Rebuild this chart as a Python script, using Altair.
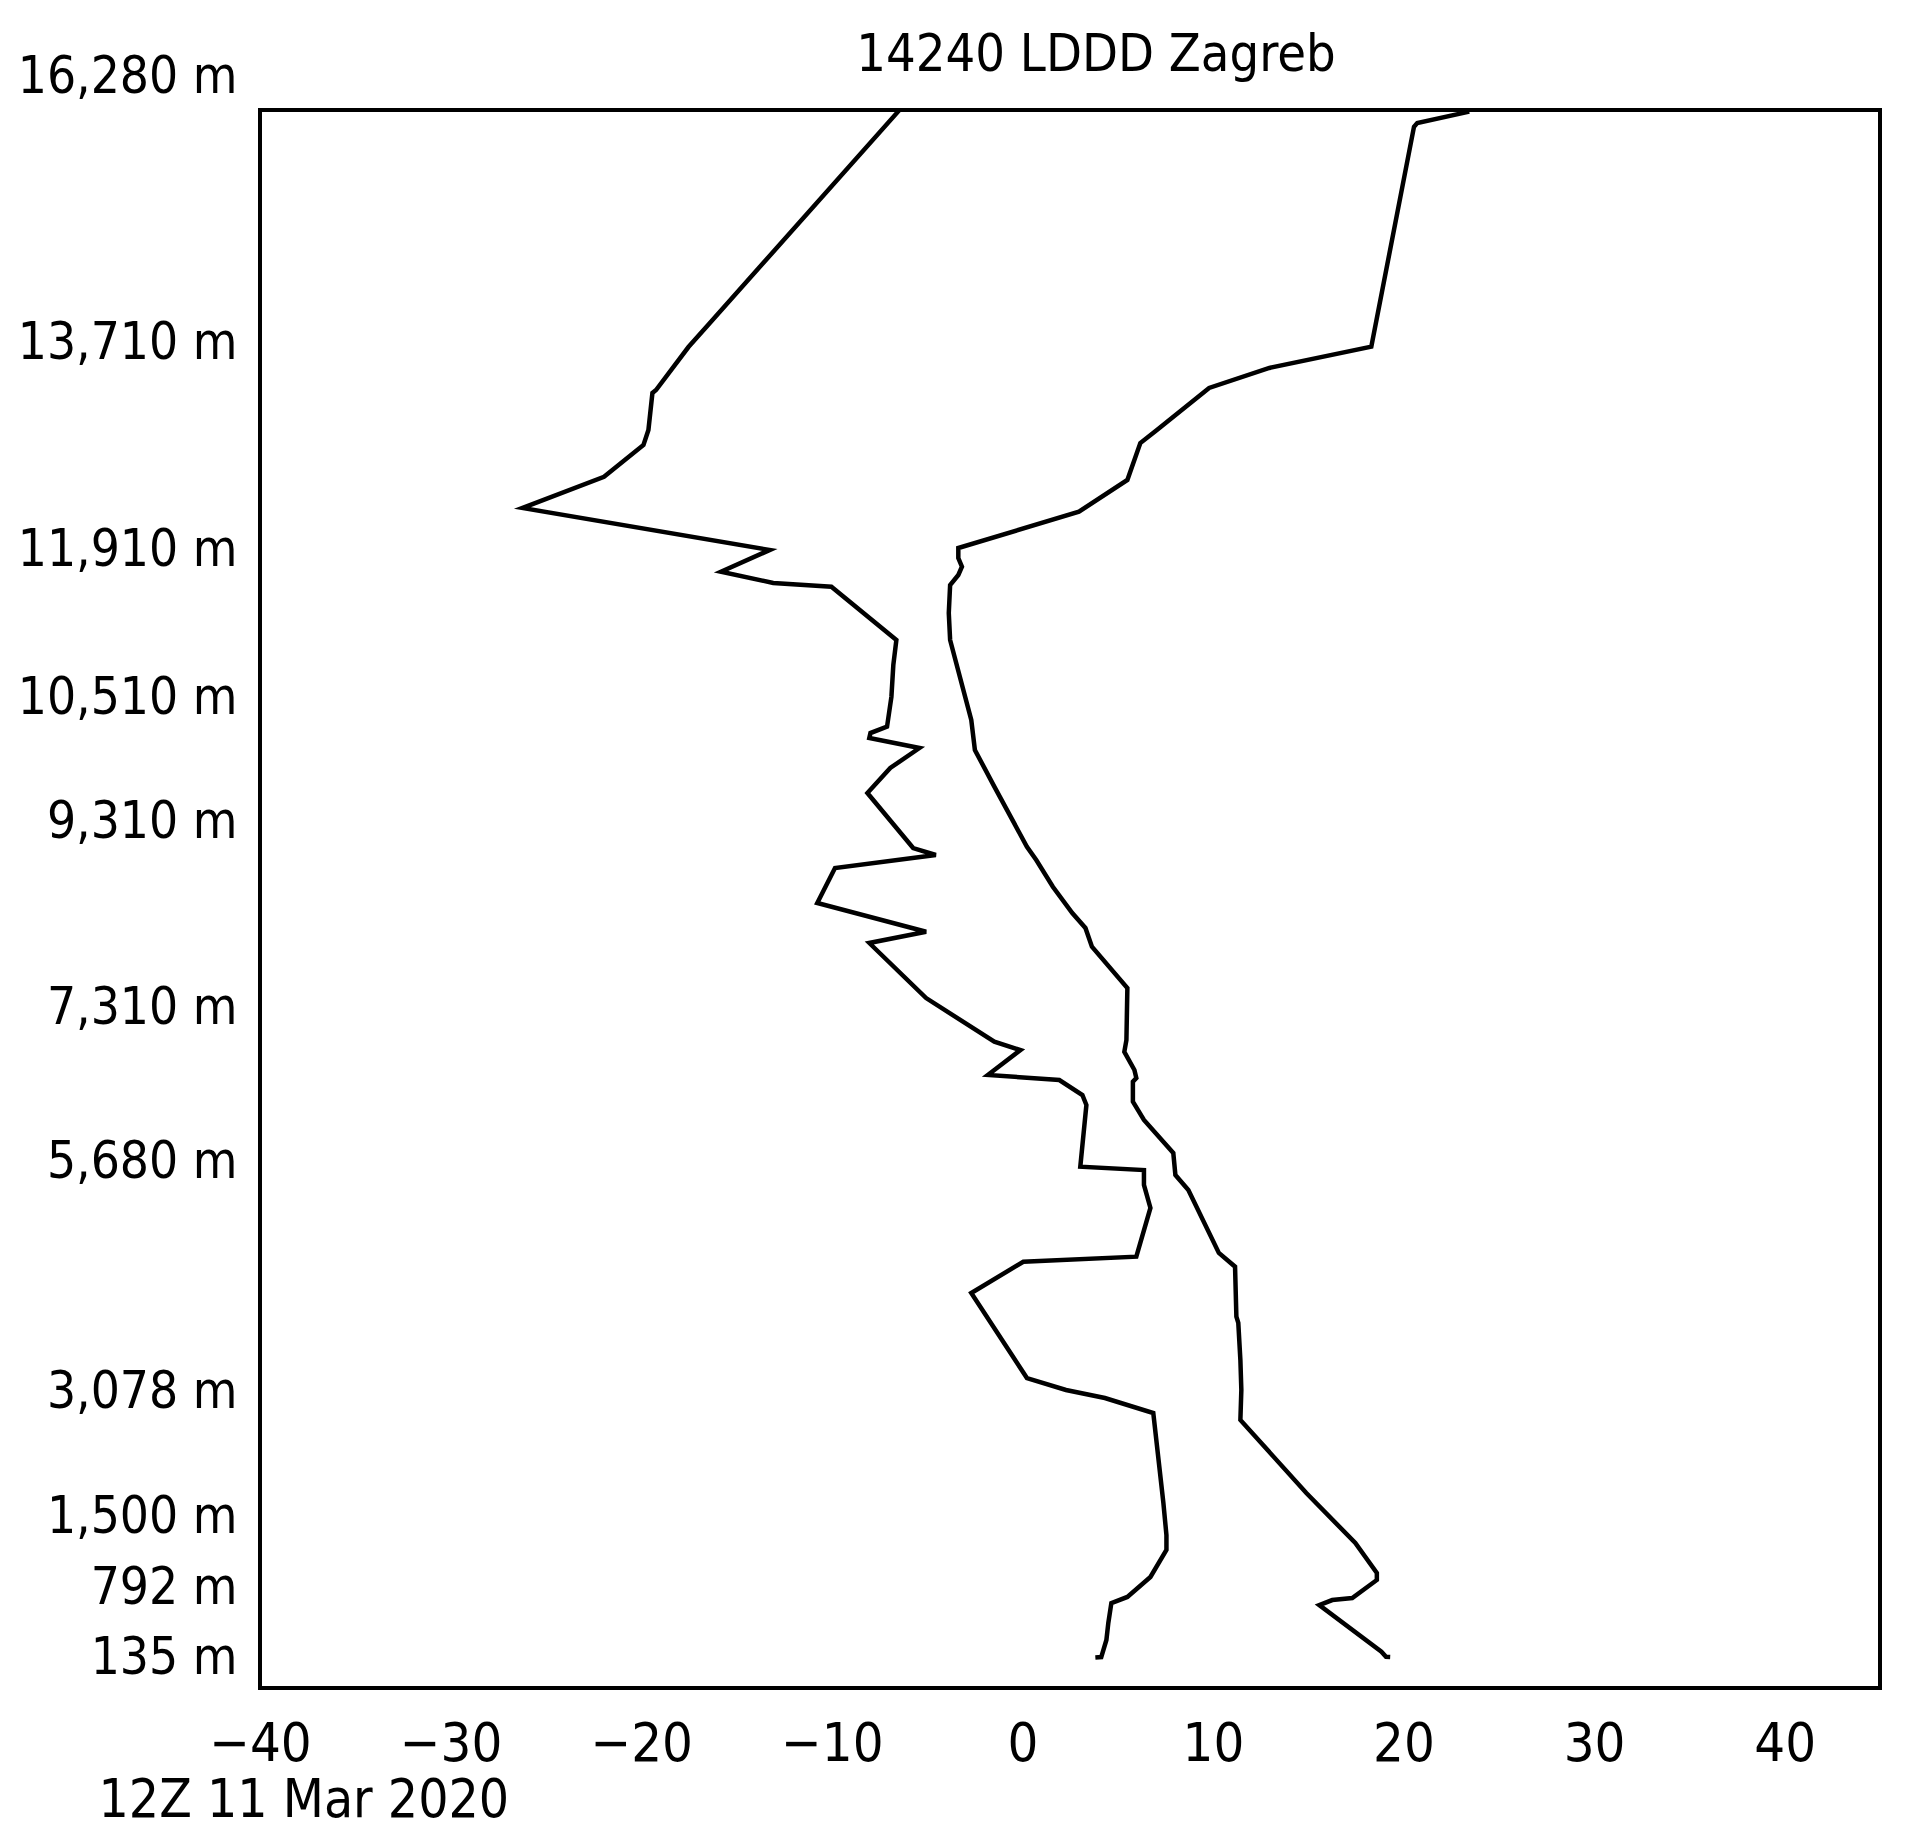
import altair as alt
import pandas as pd

# Left profile (x value, height in m)
a_x = [-6.45, -16.49, -17.52, -19.22, -19.41, -19.62, -19.88, -21.95, -26.23, -13.25,
       -15.81, -13.07, -10.02, -6.61, -6.77, -6.87, -7.10, -7.97, -8.03, -5.40,
       -6.93, -8.13, -5.73, -4.54, -9.83, -10.76, -5.05, -8.03, -5.05, -1.47,
       -0.10, -1.47, -1.81, 1.94, 3.15, 3.36, 3.04, 6.38, 6.38, 6.72,
       5.98, 0.05, -2.68, 0.24, 2.29, 4.33, 6.87, 7.40, 7.56, 7.56,
       6.72, 5.51, 4.67, 4.51, 4.41, 4.14, 3.83]
a_h = [15960, 13884, 13675, 13301, 13275, 12953, 12823, 12547, 12275, 11910,
       11705, 11598, 11563, 11059, 10822, 10522, 10232, 10171, 10123, 10026,
       9833, 9591, 9030, 8955, 8815, 8439, 8130, 8009, 7417, 6953,
       6865, 6654, 6601, 6548, 6389, 6283, 5627, 5589, 5420, 5160,
       4609, 4552, 4198, 3236, 3101, 3002, 2813, 1677, 1320, 1171,
       902, 708, 651, 463, 304, 144, 140]

# Right profile
b_x = [23.45, 20.72, 20.55, 18.31, 12.96, 9.80, 7.06, 6.19, 5.51, 2.97,
       -3.36, -3.36, -3.17, -3.36, -3.79, -3.86, -3.79, -2.68, -2.49, -1.47,
       0.24, 0.73, 1.60, 2.62, 3.31, 3.65, 5.51, 5.46, 5.35, 5.88,
       5.98, 5.80, 5.80, 6.38, 7.92, 8.03, 8.71, 10.31, 11.16, 11.23,
       11.33, 11.44, 11.49, 11.44, 14.90, 17.47, 18.60, 18.60, 17.31, 16.26,
       15.58, 18.84, 19.08, 19.30]
b_h = [15945, 15836, 15800, 13678, 13493, 13319, 12953, 12840, 12519, 12243,
       11927, 11834, 11752, 11674, 11579, 11314, 11059, 10297, 10007, 9652,
       9044, 8901, 8614, 8331, 8170, 7969, 7525, 6971, 6847, 6654,
       6569, 6530, 6318, 6125, 5775, 5533, 5363, 4651, 4496, 3930,
       3859, 3440, 3101, 2725, 1803, 1241, 942, 872, 698, 679,
       632, 194, 147, 145]

# Height labels on the y axis (mandatory levels)
level_heights = [135, 792, 1500, 3078, 5680, 7310, 9310, 10510, 11910, 13710, 16280]
# Vertical placement of those levels in the plot (scale range, px from top)
level_range = [1548, 1478, 1407, 1282, 1052, 898, 712, 588, 440, 233, -33]

x_ticks = [-40, -30, -20, -10, 0, 10, 20, 30, 40]

title = "14240 LDDD Zagreb"
date_label = "12Z 11 Mar 2020"

rows = []
for i, (x, h) in enumerate(zip(a_x, a_h)):
    rows.append({"series": "A", "idx": i, "x": x, "h": h})
for i, (x, h) in enumerate(zip(b_x, b_h)):
    rows.append({"series": "B", "idx": i, "x": x, "h": h})
df = pd.DataFrame(rows)

FONT = "DejaVu Sans Condensed, Liberation Sans Narrow, sans-serif"

lines = alt.Chart(df).mark_line(color="black", strokeWidth=4.5, clip=True).encode(
    x=alt.X("x:Q",
            scale=alt.Scale(domain=[-40, 45], nice=False, zero=False),
            axis=alt.Axis(values=x_ticks, grid=False, ticks=False, tickSize=0, domain=False,
                          labelFont=FONT, labelFontSize=54, labelColor="black",
                          labelPadding=29, labelFlush=False, labelOverlap=False,
                          title=date_label, titleFont=FONT, titleFontSize=53,
                          titleFontWeight="normal", titleColor="black",
                          titleAnchor="start", titleAlign="left", titleBaseline="alphabetic",
                          titleX=-162, titleY=128)),
    y=alt.Y("h:Q",
            scale=alt.Scale(domain=level_heights, range=level_range, nice=False, zero=False),
            axis=alt.Axis(values=level_heights, grid=False, ticks=False, tickSize=0, domain=False,
                          labelFont=FONT, labelFontSize=51, labelColor="black", labelLimit=0,
                          labelPadding=23, labelBaseline="middle", labelOverlap=False,
                          labelExpr="format(datum.value, ',') + ' m'", title=None)),
    detail="series:N",
    order="idx:Q",
)

title_mark = alt.Chart(pd.DataFrame({"t": [title]})).mark_text(
    font=FONT, fontSize=52, color="black", align="center", baseline="alphabetic"
).encode(text="t:N", x=alt.value(836), y=alt.value(-39))

chart = alt.layer(lines, title_mark).properties(
    width=1620,
    height=1578,
    autosize=alt.AutoSizeParams(type="none"),
    padding={"left": 252, "top": 102, "right": 25, "bottom": 150},
).configure_view(stroke="black", strokeWidth=4)

chart.save("out.html", embed_options={"renderer": "svg", "actions": False})
